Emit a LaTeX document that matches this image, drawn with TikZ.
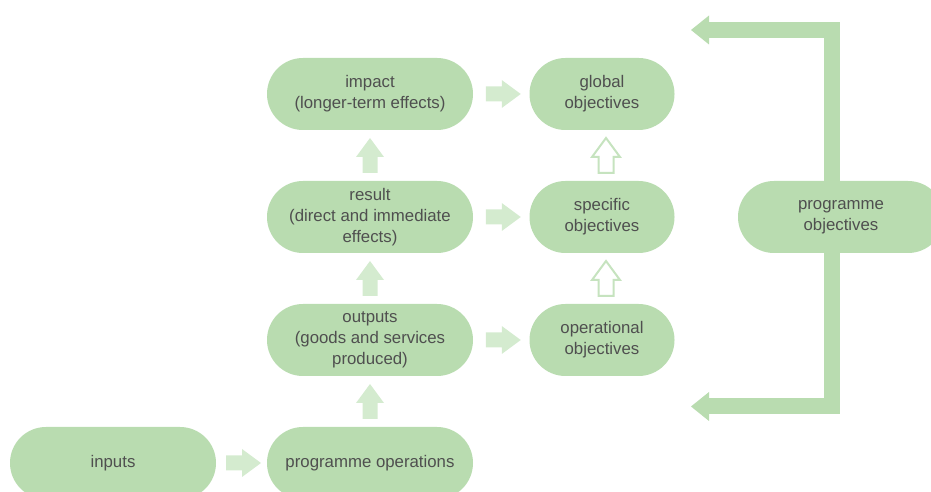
\documentclass[tikz,border=0pt]{standalone}
\usepackage{fontspec}
\setmainfont{Liberation Sans}
\usepackage{tikz}
\usetikzlibrary{arrows.meta,calc}
\definecolor{pillgreen}{HTML}{B9DCB0}
\definecolor{softgreen}{HTML}{D4EBCF}
\definecolor{linegreen}{HTML}{C6E3BF}
\definecolor{textgray}{HTML}{4F4F4F}
\def\rowsep{123}

\begin{document}
\begin{tikzpicture}[x=1pt,y=1pt]
		\tikzstyle{pill}=[rectangle,fill=pillgreen,rounded corners=35.9pt,minimum height=72pt,inner sep=0pt,text=textgray,align=center,font=\fontsize{16.8}{21}\selectfont]
		\tikzstyle{wide pill}=[pill, minimum width=206pt];
		\tikzstyle{narrow pill}=[pill, minimum width=145pt];
		\tikzstyle{soft arrow}=[fill=softgreen];
		\tikzstyle{open arrow}=[fill=white, draw=linegreen, line width=2pt, line join=miter];
		\tikzstyle{feedback}=[draw=pillgreen, line width=16pt, -{Triangle[width=29pt,length=18pt,line width=0pt]}]
		
		\useasboundingbox (0,0) rectangle (931,492);
		
		% Draw the left column nodes
		\node[wide pill] (inputs) at (113,29) {inputs};
		\node[wide pill] (operations) at (370,29) {programme operations};
		\node[wide pill] (outputs) at (370,29+\rowsep) {outputs\\(goods and services\\produced)};
		\node[wide pill] (result) at (370,29+2*\rowsep) {result\\(direct and immediate\\effects)};
		\node[wide pill] (impact) at (370,29+3*\rowsep) {impact\\(longer-term effects)};
		
		% Draw the objectives nodes
		\node[narrow pill] (operational) at (602,29+\rowsep) {operational\\objectives};
		\node[narrow pill] (specific) at (602,29+2*\rowsep) {specific\\objectives};
		\node[narrow pill] (global) at (602,29+3*\rowsep) {global\\objectives};
		\node[wide pill] (progobj) at (841,29+2*\rowsep) {programme\\objectives};
		
		% Connect each effect with its objective
		\foreach \a/\b in {inputs/operations,outputs/operational,result/specific,impact/global}
		\fill[soft arrow, shift={($(\a.east)!0.5!(\b.west)+(2,0)$)}]
		(-17.5,-7.5) -- (-1.5,-7.5) -- (-1.5,-14) -- (17.5,0) -- (-1.5,14) -- (-1.5,7.5) -- (-17.5,7.5) -- cycle;
		
		% Connect the left column upwards
		\foreach \a/\b in {operations/outputs,outputs/result,result/impact}
		\fill[soft arrow, shift={($(\a.north)!0.5!(\b.south)$)}, rotate=90]
		(-17.5,-7.5) -- (-1.5,-7.5) -- (-1.5,-14) -- (17.5,0) -- (-1.5,14) -- (-1.5,7.5) -- (-17.5,7.5) -- cycle;
		
		% Connect the objectives upwards
		\foreach \a/\b in {operational/specific,specific/global}
		\draw[open arrow, shift={($(\a.north)!0.5!(\b.south)+(4,0)$)}, rotate=90]
		(-17.5,-7.5) -- (-1.5,-7.5) -- (-1.5,-14) -- (17.5,0) -- (-1.5,14) -- (-1.5,7.5) -- (-17.5,7.5) -- cycle;
		
		% Feedback from the programme objectives
		\coordinate (top tip) at (691,462);
		\coordinate (bottom tip) at (691,85.5);
		\draw[feedback] ($(progobj.north)+(-9,0)$) |- (top tip);
		\draw[feedback] ($(progobj.south)+(-9,0)$) |- (bottom tip);
	\end{tikzpicture}
\end{document}
